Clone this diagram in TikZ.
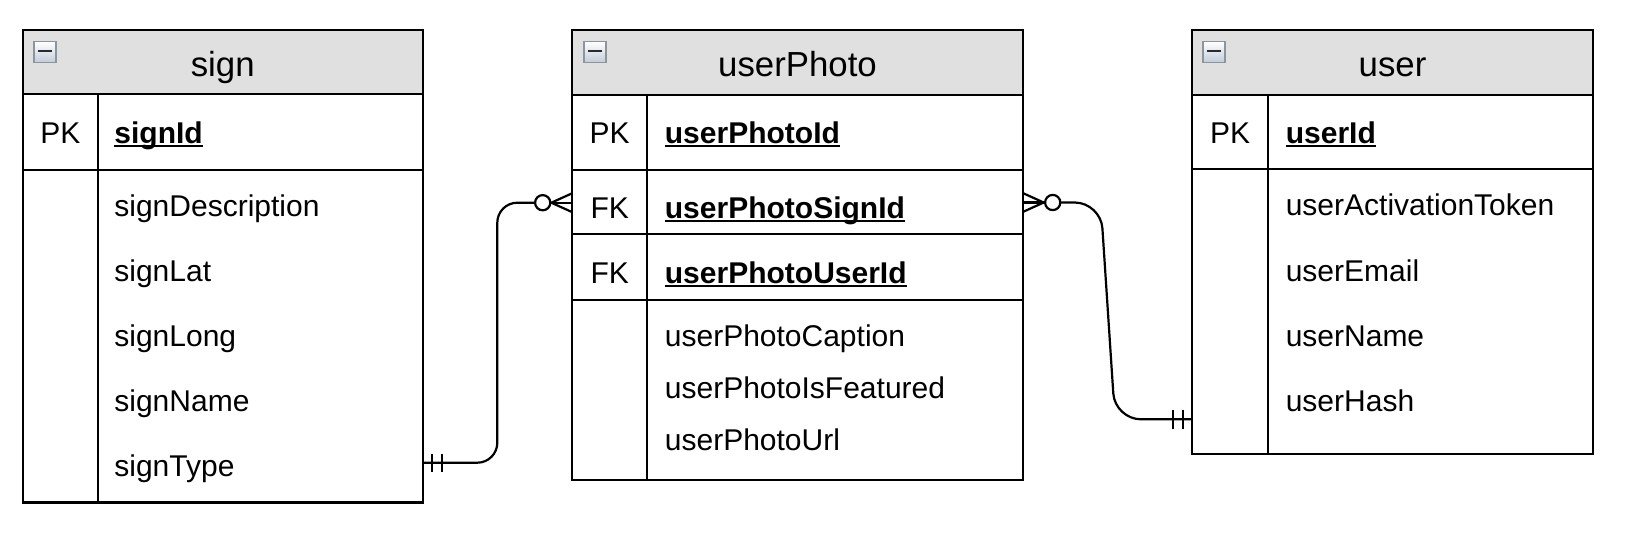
\documentclass[tikz,border=0pt]{standalone}
\usepackage{fontspec}
\setmainfont{Liberation Sans}
\usepackage{tikz}
\usetikzlibrary{positioning, calc}
\definecolor{headgray}{rgb}{0.878, 0.878, 0.878}
\definecolor{iconblue}{rgb}{0.76, 0.80, 0.85}
\definecolor{icongray}{rgb}{0.55, 0.58, 0.62}
\definecolor{minusgray}{rgb}{0.15, 0.17, 0.20}

\newcommand{\ulname}[1]{\setbox0\hbox{#1}\rlap{\rule[-1.9pt]{\wd0}{0.8pt}}\box0}

\begin{document}
\begin{tikzpicture}[x=0.5pt, y=-0.5pt,
  frame/.style={line width=1.1pt},
  head/.style={fill=headgray, line width=1.1pt},
  tabletitle/.style={anchor=base, inner sep=0pt, font=\fontsize{17.4}{20}\selectfont},
  keylabel/.style={anchor=base, inner sep=0pt, font=\fontsize{15}{18}\selectfont},
  keyname/.style={anchor=base west, inner sep=0pt, font=\fontsize{15}{18}\selectfont\bfseries},
  fieldname/.style={anchor=base west, inner sep=0pt, font=\fontsize{15}{18}\selectfont},
  collapse/.style={draw=icongray, line width=0.6pt, top color=white, bottom color=iconblue,
    minimum width=11pt, minimum height=10.5pt, inner sep=0pt,
    path picture={\draw[minusgray, line width=1.4pt] ([xshift=-3.3pt, yshift=0.5pt]path picture bounding box.center)
      -- ([xshift=3.3pt, yshift=0.5pt]path picture bounding box.center);}},
  link/.style={line width=1.1pt},
  optional/.style={circle, draw, fill=white, line width=1.1pt, minimum size=7.6pt, inner sep=0pt}]
\useasboundingbox (0,0) rectangle (1628,532);

%% sign
\draw[head] (22.8,30) rectangle (422.6,94);
\draw[frame] (22.8,94) rectangle (422.6,502.5);
\draw[frame] (22.8,170) -- (422.6,170);
\draw[frame] (98,94) -- (98,502.5);
\node[collapse] (signIcon) at (45,52) {};
\node[tabletitle] (signTitle) at (222.7,76.7) {sign};
\node[keylabel] (signPK) at (60.4,143) {PK};
\node[keyname] (signId) at (114,143) {\ulname{signId}};
\node[fieldname] (signDescription) at (114,216) {signDescription};
\node[fieldname] (signLat) at (114,281) {signLat};
\node[fieldname] (signLong) at (114,346) {signLong};
\node[fieldname] (signName) at (114,411) {signName};
\node[fieldname] (signType) at (114,476) {signType};

%% userPhoto
\draw[head] (572.3,30) rectangle (1022.7,95);
\draw[frame] (572.3,95) rectangle (1022.7,479.7);
\draw[frame] (572.3,170) -- (1022.7,170);
\draw[frame] (572.3,234) -- (1022.7,234);
\draw[frame] (572.3,300) -- (1022.7,300);
\draw[frame] (647,95) -- (647,479.7);
\node[collapse] (photoIcon) at (595,52) {};
\node[tabletitle] (photoTitle) at (797.5,76.7) {userPhoto};
\node[keylabel] (photoPK) at (609.7,143) {PK};
\node[keyname] (userPhotoId) at (664.5,143) {\ulname{userPhotoId}};
\node[keylabel] (photoFKsign) at (609.7,218) {FK};
\node[keyname] (userPhotoSignId) at (664.5,218) {\ulname{userPhotoSignId}};
\node[keylabel] (photoFKuser) at (609.7,283) {FK};
\node[keyname] (userPhotoUserId) at (664.5,283) {\ulname{userPhotoUserId}};
\node[fieldname] (userPhotoCaption) at (664.5,346) {userPhotoCaption};
\node[fieldname] (userPhotoIsFeatured) at (664.5,398) {userPhotoIsFeatured};
\node[fieldname] (userPhotoUrl) at (664.5,450) {userPhotoUrl};

%% user
\draw[head] (1192,30) rectangle (1593,95);
\draw[frame] (1192,95) rectangle (1593,453.7);
\draw[frame] (1192,169) -- (1593,169);
\draw[frame] (1268,95) -- (1268,453.7);
\node[collapse] (userIcon) at (1214,52) {};
\node[tabletitle] (userTitle) at (1392.5,76.7) {user};
\node[keylabel] (userPK) at (1230,143) {PK};
\node[keyname] (userId) at (1285.4,143) {\ulname{userId}};
\node[fieldname] (userActivationToken) at (1285.4,215) {userActivationToken};
\node[fieldname] (userEmail) at (1285.4,281) {userEmail};
\node[fieldname] (userName) at (1285.4,346) {userName};
\node[fieldname] (userHash) at (1285.4,411) {userHash};

%% link points on the table edges
\coordinate (signLink) at (422.6,462.7);
\coordinate (photoSignLink) at (572.3,202.7);
\coordinate (photoUserLink) at (1022.7,202.5);
\coordinate (userLink) at (1192,419.3);

%% sign -- userPhoto
\draw[link, rounded corners=10pt] (signLink) -| ($(photoSignLink)+(-75,0)$) -- ($(photoSignLink)+(-35,0)$);
\draw[link] ($(signLink)+(9.7,-9)$) -- ++(0,18);
\draw[link] ($(signLink)+(19.7,-9)$) -- ++(0,18);
\node[optional] (signOptional) at ($(photoSignLink)+(-29.6,0)$) {};
\draw[link] ($(photoSignLink)+(-21,0)$) -- ($(photoSignLink)+(0,-9.5)$);
\draw[link] ($(photoSignLink)+(-21,0)$) -- (photoSignLink);
\draw[link] ($(photoSignLink)+(-21,0)$) -- ($(photoSignLink)+(0,9.5)$);

%% userPhoto -- user
\draw[link, rounded corners=13pt] ($(photoUserLink)+(35,0)$) -- ($(photoUserLink)+(78,0)$)
  -- ($(userLink)+(-77,0)$) -- (userLink);
\draw[link] ($(userLink)+(-19.3,-9.5)$) -- ++(0,19);
\draw[link] ($(userLink)+(-9.3,-9.5)$) -- ++(0,19);
\node[optional] (photoOptional) at ($(photoUserLink)+(30,0)$) {};
\draw[link] ($(photoUserLink)+(21,0)$) -- ($(photoUserLink)+(0,-9.5)$);
\draw[link] ($(photoUserLink)+(21,0)$) -- (photoUserLink);
\draw[link] ($(photoUserLink)+(21,0)$) -- ($(photoUserLink)+(0,9.5)$);
\end{tikzpicture}
\end{document}
